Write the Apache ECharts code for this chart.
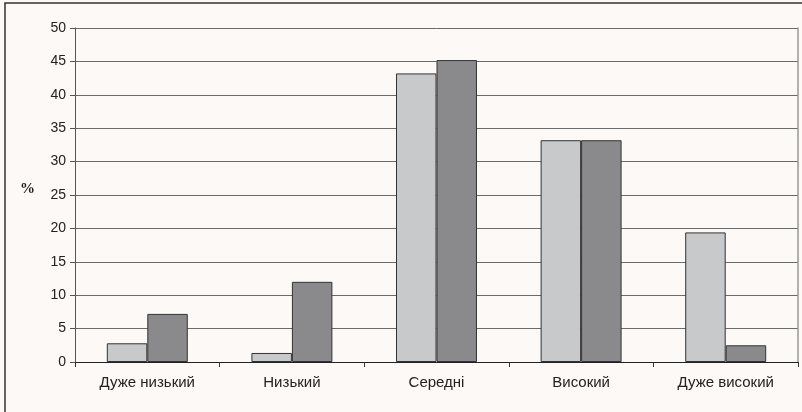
<!DOCTYPE html>
<html>
<head>
<meta charset="utf-8">
<script src="https://cdn.jsdelivr.net/npm/echarts@6/dist/echarts.min.js"></script>
<style>
html,body{margin:0;padding:0;background:#fcf9f6;}
#c{width:802px;height:412px;}
</style>
</head>
<body>
<div id="c"></div>
<script>
const categories = ['Дуже низький', 'Низький', 'Середні', 'Високий', 'Дуже високий'];
const seriesA = [2.8, 1.35, 43.2, 33.2, 19.4];
const seriesB = [7.2, 12.0, 45.2, 33.2, 2.5];
const yTicks = {min: 0, max: 50, interval: 5};

const chart = echarts.init(document.getElementById('c'), null, {renderer: 'canvas'});
chart.setOption({
  backgroundColor: '#fcf9f6',
  animation: false,
  graphic: [
    {type: 'rect', shape: {x: 5, y: 3, width: 830, height: 440}, style: {fill: 'none', stroke: '#333', lineWidth: 1.5}, silent: true, z: 100},
    {type: 'text', left: 20, top: 182, style: {text: '%', font: 'bold 15px "Liberation Serif"', fill: '#222'}}
  ],
  grid: {left: 75, right: 4, top: 28, bottom: 50, containLabel: false},
  xAxis: {
    type: 'category',
    data: categories,
    axisLine: {lineStyle: {color: '#222', width: 1}},
    axisTick: {show: true, length: 5, lineStyle: {color: '#333'}},
    axisLabel: {color: '#222', fontFamily: 'Liberation Sans, Arial', fontSize: 15, margin: 13}
  },
  yAxis: [{
    type: 'value',
    min: yTicks.min, max: yTicks.max, interval: yTicks.interval,
    axisLine: {show: true, lineStyle: {color: '#555', width: 1}},
    axisTick: {show: true, length: 5, lineStyle: {color: '#555'}},
    axisLabel: {color: '#222', fontFamily: 'Liberation Sans, Arial', fontSize: 14, margin: 9},
    splitLine: {show: true, lineStyle: {color: '#6a6a6a', width: 1}}
  }, {
    type: 'value', position: 'right',
    min: yTicks.min, max: yTicks.max, interval: yTicks.interval,
    axisLine: {show: true, lineStyle: {color: '#999', width: 1.5}},
    axisTick: {show: false}, axisLabel: {show: false}, splitLine: {show: false}
  }],
  series: [
    {type: 'bar', data: seriesA, barGap: '0%', barCategoryGap: '44%',
     itemStyle: {color: '#c8c9cb', borderColor: '#333', borderWidth: 1}},
    {type: 'bar', data: seriesB, barGap: '0%', barCategoryGap: '44%',
     itemStyle: {color: '#8a8a8c', borderColor: '#333', borderWidth: 1}}
  ]
});
</script>
</body>
</html>
